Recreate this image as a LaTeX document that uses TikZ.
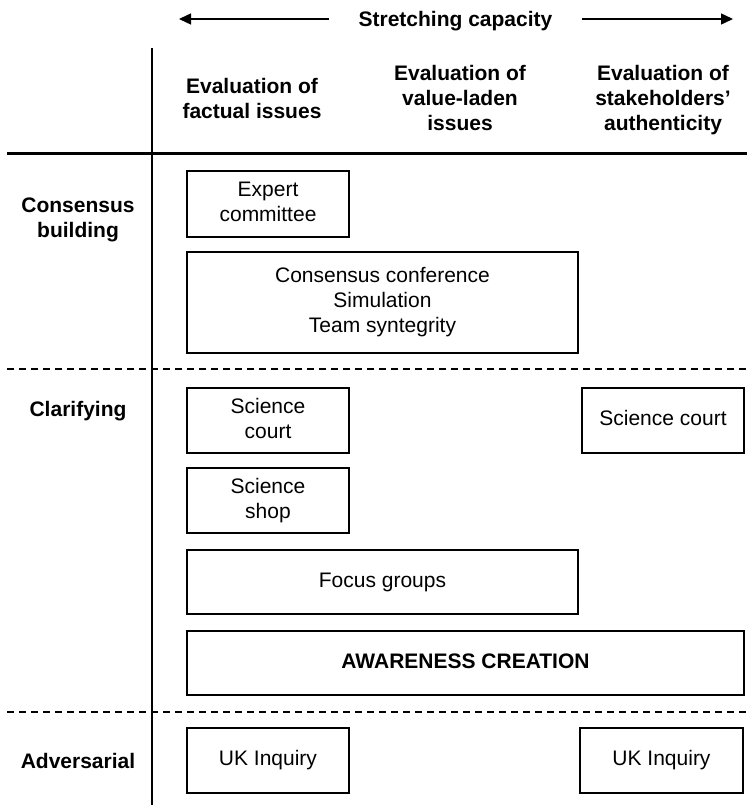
\documentclass[tikz,border=0pt]{standalone}
\usepackage{fontspec}
\setmainfont{Liberation Sans}
\usetikzlibrary{arrows.meta}
\begin{document}
\begin{tikzpicture}[x=1pt,y=-1pt,
  every node/.style={font=\fontsize{21}{25}\selectfont, align=center, inner sep=0pt},
  head/.style={font=\fontsize{21}{25}\selectfont\bfseries},
  box/.style={draw, line width=1.4pt, minimum width=162pt, minimum height=65pt},
  widebox/.style={box, minimum width=391pt},
  rule/.style={line width=3pt},
  sep/.style={line width=1.4pt, dash pattern=on 7pt off 5pt},
  stretch/.style={line width=1.4pt, -{Triangle[length=12pt,width=11pt]}}]
\useasboundingbox (0,0) rectangle (747,805);
% header
\node[head, inner xsep=29pt] (sc) at (455.5,22) {\strut Stretching capacity};
\coordinate (la) at (179,19);
\coordinate (ra) at (733,19);
\draw[stretch] (sc.west |- la) -- (la);
\draw[stretch] (sc.east |- ra) -- (ra);
\node[head] (c1) at (252,101) {\strut Evaluation of\\\strut factual issues};
\node[head] (c2) at (460,101) {\strut Evaluation of\\\strut value-laden\\\strut issues};
\node[head] (c3) at (663,101) {\strut Evaluation of\\\strut stakeholders'\\\strut authenticity};
% grid
\draw[rule] (7,154) -- (747,154);
\draw[line width=2.6pt] (152,48) -- (152,805);
\draw[sep] (7,369) -- (747,369);
\draw[sep] (7,712) -- (747,712);
% row labels
\node[head] (r1) at (78,220) {\strut Consensus\\\strut building};
\node[head] (r2) at (78,411) {\strut Clarifying};
\node[head] (r3) at (78,763) {\strut Adversarial};
% boxes
\node[box, minimum height=66pt] (expert) at (268,204) {\strut Expert\\\strut committee};
\node[widebox, minimum height=101pt] (cons) at (382.5,302.5) {\strut Consensus conference\\\strut Simulation\\\strut Team syntegrity};
\node[box] (sc1) at (268,420.5) {\strut Science\\\strut court};
\node[box] (sc2) at (663,420.5) {\strut Science court};
\node[box] (shop) at (268,500.5) {\strut Science\\\strut shop};
\node[widebox, minimum height=64pt] (focus) at (382.5,582) {\strut Focus groups};
\node[box, minimum width=557pt, minimum height=64pt, font=\fontsize{21}{25}\selectfont\bfseries] (aware) at (465.5,663) {\strut AWARENESS CREATION};
\node[box] (uk1) at (268,760.5) {\strut UK Inquiry};
\node[box, minimum width=163pt] (uk2) at (661.5,760.5) {\strut UK Inquiry};
\end{tikzpicture}
\end{document}
